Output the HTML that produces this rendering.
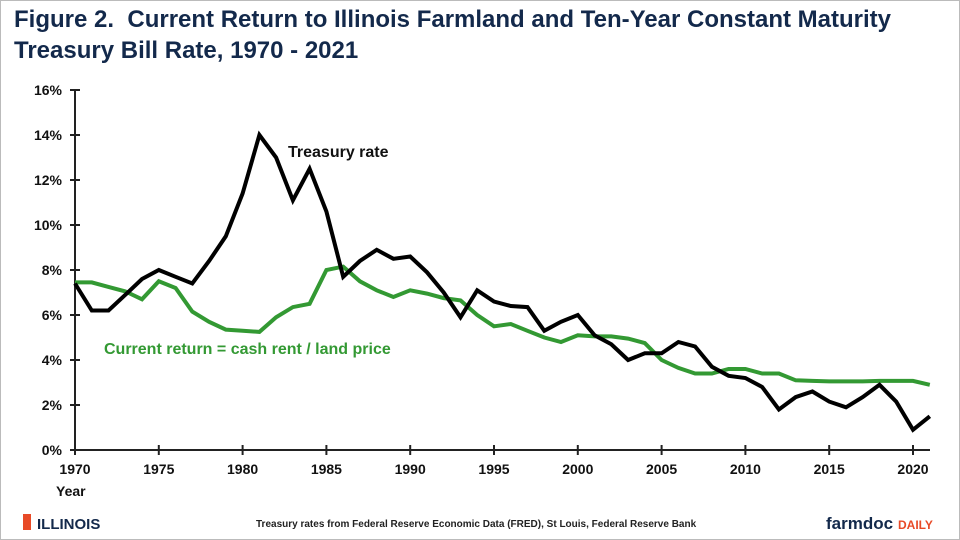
<!DOCTYPE html>
<html><head><meta charset="utf-8"><style>
body{margin:0;width:960px;height:540px;overflow:hidden;background:#fff;font-family:"Liberation Sans",Arial,sans-serif;}
#frame{position:absolute;left:0;top:0;width:958px;height:538px;border:1px solid #bbb;}
#title{position:absolute;left:14px;top:4px;font-size:24px;font-weight:bold;color:#13294b;line-height:31px;}
</style></head><body>
<div id="frame"></div>
<div id="title">Figure 2.&nbsp; Current Return to Illinois Farmland and Ten-Year Constant Maturity<br>Treasury Bill Rate, 1970 - 2021</div>
<svg id="chart" width="960" height="540" style="position:absolute;left:0;top:0"></svg>
<script>
const years=[];for(let y=1970;y<=2021;y++)years.push(y);
const treasury=[7.4,6.2,6.2,6.9,7.6,8.0,7.7,7.4,8.4,9.5,11.4,14.0,13.0,11.1,12.5,10.6,7.7,8.4,8.9,8.5,8.6,7.9,7.0,5.9,7.1,6.6,6.4,6.35,5.3,5.7,6.0,5.1,4.7,4.0,4.3,4.3,4.8,4.6,3.7,3.3,3.2,2.8,1.8,2.35,2.6,2.15,1.9,2.35,2.9,2.15,0.9,1.5];
const currentReturn=[7.45,7.45,7.25,7.05,6.7,7.5,7.2,6.15,5.7,5.35,5.3,5.25,5.9,6.35,6.5,8.0,8.15,7.5,7.1,6.8,7.1,6.95,6.75,6.65,6.0,5.5,5.6,5.3,5.0,4.8,5.1,5.05,5.05,4.95,4.75,4.0,3.65,3.4,3.4,3.6,3.6,3.4,3.4,3.1,3.07,3.05,3.05,3.05,3.07,3.07,3.07,2.9];
const yTicks=[0,2,4,6,8,10,12,14,16];
const xTicks=[1970,1975,1980,1985,1990,1995,2000,2005,2010,2015,2020];
const X=y=>75+(y-1970)*16.76;
const Y=v=>450-v*22.5;
const svg=document.getElementById('chart');const NS='http://www.w3.org/2000/svg';
function mk(t,a,txt){const e=document.createElementNS(NS,t);for(const k in a)e.setAttribute(k,a[k]);if(txt!==undefined)e.textContent=txt;svg.appendChild(e);return e;}
let e;
e=mk('line',{x1:75,y1:Y(0),x2:75,y2:Y(16),stroke:'#222','stroke-width':2});


e=mk('line',{x1:75,y1:Y(0),x2:930,y2:Y(0),stroke:'#222','stroke-width':2});


yTicks.forEach(v=>{
 mk('line',{x1:70,y1:Y(v),x2:80,y2:Y(v),stroke:'#222','stroke-width':2});
 e=mk('text',{x:62,y:Y(v)+5,'text-anchor':'end','font-size':14,'font-weight':'bold',fill:'#111'},v+'%');
 
 
});
xTicks.forEach(v=>{
 mk('line',{x1:X(v),y1:Y(0)-5,x2:X(v),y2:Y(0)+5,stroke:'#222','stroke-width':2});
 e=mk('text',{x:X(v),y:Y(0)+24,'text-anchor':'middle','font-size':14,'font-weight':'bold',fill:'#111'},v);
 
 
});
e=mk('text',{x:56,y:496,'font-size':14,'font-weight':'bold',fill:'#111'},'Year');


function line(vals,col,name){
 const d=vals.map((v,i)=>(i?'L':'M')+X(years[i]).toFixed(1)+' '+Y(v).toFixed(1)).join(' ');
 const p=mk('path',{d:d,fill:'none',stroke:col,'stroke-width':4,'stroke-linejoin':'miter'});
 
 
}
line(currentReturn,'#339933','current-return-line');
line(treasury,'#000','treasury-rate-line');
e=mk('text',{x:288,y:157,'font-size':16,'font-weight':'bold',fill:'#111'},'Treasury rate');


e=mk('text',{x:104,y:354,'font-size':16,'font-weight':'bold',fill:'#339933'},'Current return = cash rent / land price');


e=mk('text',{x:256,y:527,'font-size':10,'font-weight':'bold',fill:'#222'},'Treasury rates from Federal Reserve Economic Data (FRED), St Louis, Federal Reserve Bank');


e=mk('rect',{x:23,y:514,width:8,height:16,fill:'#e84a27'});


e=mk('text',{x:37,y:529,'font-size':15,'font-weight':'bold',fill:'#13294b'},'ILLINOIS');


e=mk('text',{x:826,y:529,'font-size':17,'font-weight':'bold',fill:'#13294b'},'farmdoc');


e=mk('text',{x:898,y:529,'font-size':12,'font-weight':'bold',fill:'#e84a27'},'DAILY');


</script>
</body></html>
